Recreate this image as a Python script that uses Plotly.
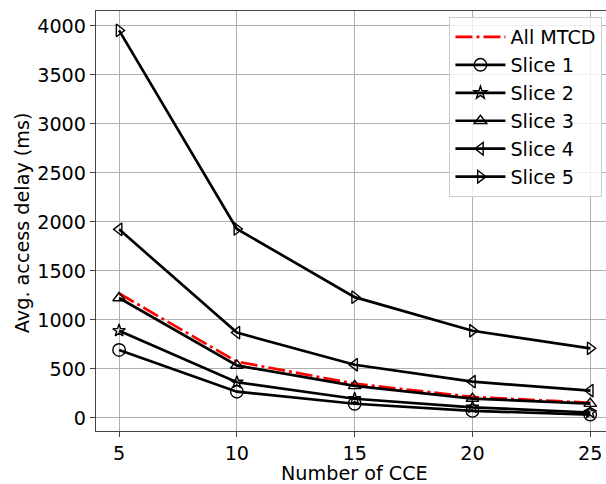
import plotly.graph_objects as go

cce = [5, 10, 15, 20, 25]
all_mtcd = [1270, 575, 350, 215, 155]
slice1 = [694, 268, 145, 72, 35]
slice2 = [891, 364, 196, 109, 56]
slice3 = [1224, 536, 327, 198, 146]
slice4 = [1925, 871, 543, 370, 280]
slice5 = [3955, 1929, 1233, 890, 711]

FONT = "DejaVu Sans"
FS = 19.2

fig = go.Figure()
fig.add_trace(go.Scatter(
    x=cce, y=all_mtcd, name="All MTCD", mode="lines",
    line=dict(color="red", width=2.7, dash="17px,4px,3px,4px"),
    legendgroup="a"))

series = [
    ("Slice 1", slice1, "circle-open", 12.5),
    ("Slice 2", slice2, "star-open", 9.5),
    ("Slice 3", slice3, "triangle-up-open", 11),
    ("Slice 4", slice4, "triangle-left-open", 11),
    ("Slice 5", slice5, "triangle-right-open", 11),
]
for i, (name, vals, sym, sz) in enumerate(series):
    fig.add_trace(go.Scatter(
        x=cce, y=vals, name=name, mode="lines+markers",
        line=dict(color="black", width=2.7),
        marker=dict(symbol=sym, size=sz, color="black", line=dict(width=1.4, color="black")),
        legendgroup=f"g{i}"))

fig.update_layout(
    width=606, height=484,
    margin=dict(l=96, r=0, t=11, b=53, autoexpand=False),
    paper_bgcolor="white", plot_bgcolor="white",
    font=dict(family=FONT, size=FS, color="black"),
    showlegend=True,
    legend=dict(
        x=0.993, xanchor="right", y=0.986, yanchor="top",
        bgcolor="rgba(255,255,255,0.8)", bordercolor="#cccccc", borderwidth=1,
        font=dict(family=FONT, size=FS), tracegroupgap=0,
        itemwidth=50,
    ),
    xaxis=dict(
        range=[4.02, 25.67], tickvals=cce, ticktext=[str(v) for v in cce],
        showgrid=True, gridcolor="#b0b0b0", gridwidth=1,
        showline=True, linecolor="#444444", linewidth=1.2, mirror=True,
        ticks="outside", ticklen=5, tickcolor="#444444",
        zeroline=False, automargin=False,
    ),
    yaxis=dict(
        range=[-133, 4153], tickvals=[0, 500, 1000, 1500, 2000, 2500, 3000, 3500, 4000],
        showgrid=True, gridcolor="#b0b0b0", gridwidth=1,
        showline=True, linecolor="#444444", linewidth=1.2, mirror=False,
        ticks="outside", ticklen=5, tickcolor="#444444",
        zeroline=False, automargin=False,
    ),
    annotations=[
        dict(text="Number of CCE", xref="paper", yref="paper", x=0.507, y=-0.101,
             xanchor="center", yanchor="middle", showarrow=False,
             font=dict(family=FONT, size=FS, color="black")),
        dict(text="Avg. access delay (ms)", xref="paper", yref="paper", x=-0.145, y=0.495,
             xanchor="center", yanchor="middle", showarrow=False, textangle=-90,
             font=dict(family=FONT, size=FS, color="black")),
    ],
)

fig.write_html("out.html", config={"displayModeBar": False},
               post_script="document.body.style.margin='0';document.body.style.overflow='hidden';")
